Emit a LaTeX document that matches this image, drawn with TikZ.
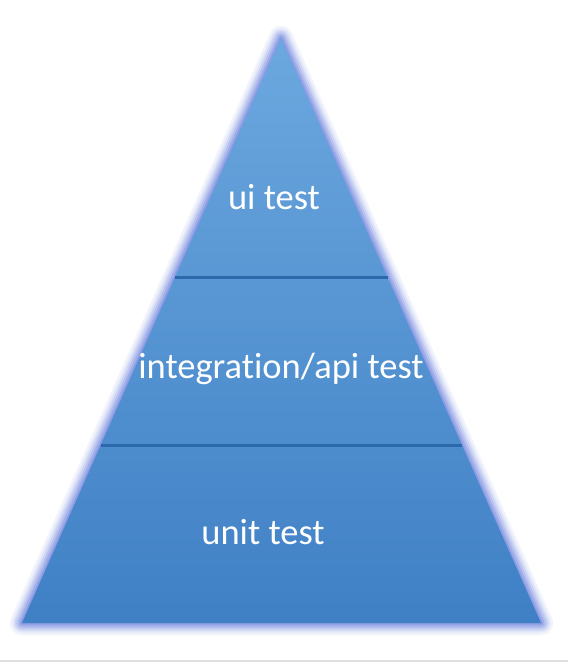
\documentclass[tikz,border=0pt]{standalone}
\usepackage{fontspec}
\setmainfont[Ligatures=NoCommon]{Carlito}
\usepackage{xcolor}
\usetikzlibrary{calc}
\definecolor{pyrtop}{HTML}{6CA8DF}
\definecolor{pyrbot}{HTML}{3F80C5}
\definecolor{pyrline}{HTML}{2C68AC}
\definecolor{pyrglow}{HTML}{7F90E3}
\tikzset{
	layertext/.style={text=white, font=\fontsize{36.5}{42}\selectfont},
	glow/.style={draw=pyrglow, line join=round, fill=none}
}

\begin{document}
\begin{tikzpicture}[x=1pt,y=-1pt]
					\useasboundingbox (0,0) rectangle (568,663);
					\fill[white] (0,0) rectangle (568,663);
					\draw[gray!25, line width=2pt] (0,661) -- (568,661);
					\coordinate (apex) at (281,38);
					\coordinate (bl) at (22,623);
					\coordinate (br) at (541,623);
					\foreach \w/\o in {24/0.10,19/0.14,15/0.2,11/0.28,7/0.4,3/0.6}{
						\draw[glow, line width=\w pt, opacity=\o] (apex) -- (bl) -- (br) -- cycle;
					}
					\shade[top color=pyrtop, bottom color=pyrbot] (apex) -- (bl) -- (br) -- cycle;
					\coordinate (l1a) at ($(apex)!0.41!(bl)$);
					\coordinate (l1b) at ($(apex)!0.41!(br)$);
					\coordinate (l2a) at ($(apex)!0.696!(bl)$);
					\coordinate (l2b) at ($(apex)!0.696!(br)$);
					\draw[pyrline, line width=3pt] (l1a) -- (l1b);
					\draw[pyrline, line width=3pt] (l2a) -- (l2b);
					\node[layertext] (ui) at (274,197) {ui test};
					\node[layertext] (api) at (281,369) {integration/api test};
					\node[layertext] (unit) at (263,532) {unit test};
				\end{tikzpicture}
\end{document}
